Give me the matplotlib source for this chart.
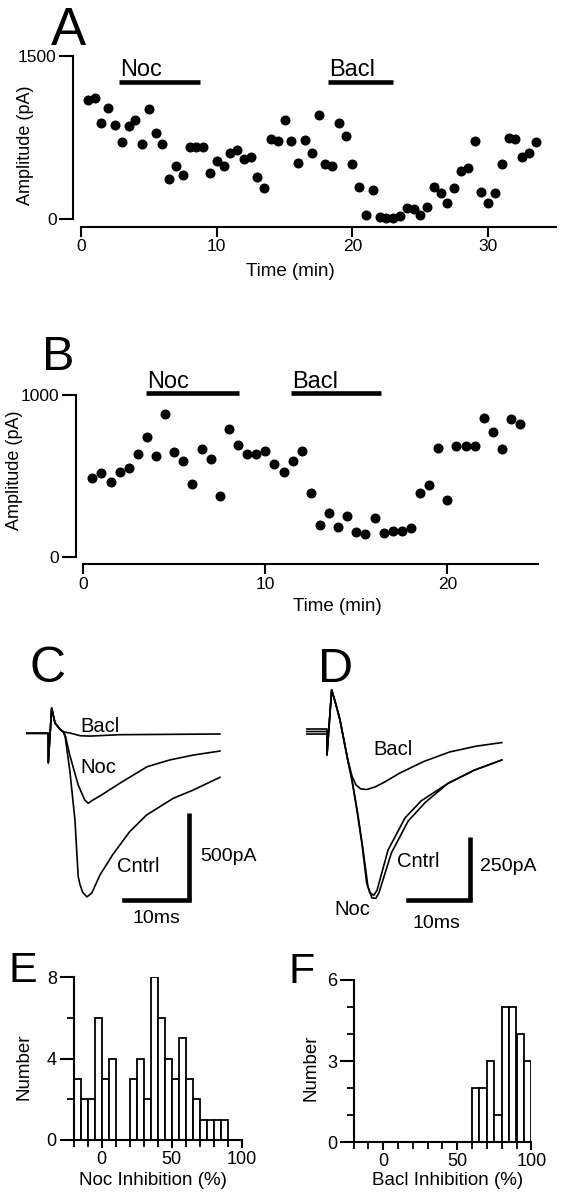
import numpy as np
import matplotlib.pyplot as plt

plt.rcParams.update({
    'font.family': ['Liberation Sans', 'DejaVu Sans'],
    'font.size': 13,
    'axes.linewidth': 1.5,
    'xtick.major.width': 1.5,
    'ytick.major.width': 1.5,
    'xtick.minor.width': 1.3,
    'ytick.minor.width': 1.3,
    'xtick.major.pad': 2,
    'ytick.major.pad': 2,
})

# ── Panel A: amplitude over time ─────────────────────────────────
a_time = [0.5, 1.0, 1.5, 2.0, 2.5, 3.0, 3.5, 4.0, 4.5, 5.0, 5.5, 6.0, 6.5, 7.0,
          7.5, 8.0, 8.5, 9.0, 9.5, 10.0, 10.5, 11.0, 11.5, 12.0, 12.5, 13.0,
          13.5, 14.0, 14.5, 15.0, 15.5, 16.0, 16.5, 17.0, 17.5, 18.0, 18.5,
          19.0, 19.5, 20.0, 20.5, 21.0, 21.5, 22.0, 22.5, 23.0, 23.5, 24.0,
          24.5, 25.0, 25.5, 26.0, 26.5, 27.0, 27.5, 28.0, 28.5, 29.0, 29.5,
          30.0, 30.5, 31.0, 31.5, 32.0, 32.5, 33.0, 33.5]
a_amp = [1094, 1115, 886, 1023, 865, 712, 856, 911, 690, 1009, 789, 690, 367,
         492, 406, 666, 666, 666, 427, 535, 492, 605, 635, 550, 574, 385, 284,
         736, 718, 911, 718, 519, 727, 611, 956, 507, 492, 880, 767, 507, 293,
         39, 269, 24, 15, 15, 30, 101, 92, 39, 116, 293, 244, 147, 284, 443,
         473, 721, 253, 152, 244, 507, 743, 734, 569, 605, 706]
a_noc = (2.8, 8.8)
a_bacl = (18.2, 23.0)

# ── Panel B ──────────────────────────────────────────────────────
b_time = [0.5, 1.0, 1.5, 2.0, 2.5, 3.0, 3.5, 4.0, 4.5, 5.0, 5.5, 6.0, 6.5, 7.0,
          7.5, 8.0, 8.5, 9.0, 9.5, 10.0, 10.5, 11.0, 11.5, 12.0, 12.5, 13.0,
          13.5, 14.0, 14.5, 15.0, 15.5, 16.0, 16.5, 17.0, 17.5, 18.0, 18.5,
          19.0, 19.5, 20.0, 20.5, 21.0, 21.5, 22.0, 22.5, 23.0, 23.5, 24.0]
b_amp = [489, 516, 465, 526, 547, 634, 739, 623, 880, 650, 592, 449, 666, 603,
         376, 790, 691, 634, 634, 654, 572, 526, 592, 654, 393, 197, 273, 187,
         253, 157, 142, 242, 146, 160, 160, 177, 393, 444, 671, 352, 687, 687,
         687, 859, 773, 666, 850, 821]
b_noc = (3.45, 8.55)
b_bacl = (11.4, 16.35)

# ── Panel C: example currents (ms, pA) ───────────────────────────
c_bacl_t = [-3.3, 0.0, 0.0, 0.52, 1.03, 1.8, 2.3, 3.5, 4.9, 6.4, 11.0, 26.4]
c_bacl_i = [0, 0, -169, 145, 59, 23, 9, 0, -14, -16, -8, -4]
c_noc_t = [-3.3, 0.0, 0.0, 0.52, 1.03, 1.8, 2.3, 2.6, 3.3, 4.6, 5.6, 6.15, 6.7,
           7.95, 11.0, 15.2, 18.7, 22.3, 26.4]
c_noc_i = [0, 0, -169, 145, 59, 23, 9, -10, -125, -297, -383, -402, -387,
           -360, -287, -192, -153, -125, -102]
c_ctl_t = [-3.3, 0.0, 0.0, 0.52, 1.03, 1.8, 2.3, 2.6, 3.3, 4.1, 4.6, 4.9, 5.3,
           5.95, 6.7, 7.95, 9.9, 12.5, 15.1, 19.2, 22.3, 26.4]
c_ctl_i = [0, 0, -169, 145, 59, 23, 9, -21, -211, -498, -824, -872, -915,
           -940, -917, -814, -698, -566, -470, -374, -326, -253]

# ── Panel D ──────────────────────────────────────────────────────
d_bacl_t = [-3.1, 0.0, 0.0, 0.72, 1.4, 2.0, 2.6, 3.2, 3.85, 4.46, 5.2, 6.15,
            7.4, 8.9, 11.2, 14.8, 18.9, 23.0, 26.9]
d_bacl_i = [10, 10, -93, 165, 105, 46, -34, -113, -177, -212, -228, -230,
            -220, -200, -165, -120, -81, -58, -44]
d_ctl_t = [-3.1, 0.0, 0.0, 0.72, 1.4, 2.0, 2.6, 3.2, 3.85, 4.6, 5.4, 6.1, 6.6,
           7.2, 7.7, 9.4, 12.0, 14.5, 18.6, 22.7, 26.9]
d_ctl_i = [0, 0, -93, 165, 105, 46, -34, -113, -192, -312, -450, -601, -640,
           -650, -630, -470, -343, -275, -206, -153, -113]
d_noc_t = [-3.1, 0.0, 0.0, 0.72, 1.4, 2.0, 2.6, 3.2, 3.85, 4.7, 5.5, 6.3, 6.9,
           7.5, 8.0, 9.9, 12.5, 15.1, 18.6, 22.7, 26.9]
d_noc_i = [-10, -10, -93, 165, 105, 46, -34, -113, -195, -320, -460, -615,
           -660, -662, -640, -482, -355, -282, -206, -153, -113]

# ── Panels E, F: histograms (5 % bins) ───────────────────────────
e_bins = [-20, -15, -10, -5, 0, 5, 10, 15, 20, 25, 30, 35, 40, 45, 50, 55, 60,
          65, 70, 75, 80, 85]
e_counts = [3, 2, 2, 6, 3, 4, 0, 0, 3, 4, 2, 8, 6, 4, 3, 5, 3, 2, 1, 1, 1, 1]
f_bins = [60, 65, 70, 75, 80, 85, 90, 95]
f_counts = [2, 2, 3, 1, 5, 5, 4, 3]

W, H = 569, 1199
fig = plt.figure(figsize=(W / 100, H / 100), dpi=100)


def px_axes(x0, y0, x1, y1):
    """axes from pixel box (left, top, right, bottom)"""
    return fig.add_axes([x0 / W, 1 - y1 / H, (x1 - x0) / W, (y1 - y0) / H])


def letter(x, y, s, size):
    fig.text(x / W, 1 - y / H, s, fontsize=size, ha='left', va='baseline')


def time_axes(ax, xmax, ymax, xticks):
    ax.set_xlim(0, xmax)
    ax.set_ylim(0, ymax)
    for s in ('top', 'right'):
        ax.spines[s].set_visible(False)
    ax.spines['left'].set_position(('outward', 5.5))
    ax.spines['bottom'].set_position(('outward', 5.2))
    ax.spines['left'].set_bounds(0, ymax)
    ax.spines['bottom'].set_bounds(0, xmax)
    ax.set_yticks([0, ymax])
    ax.set_xticks(xticks)
    ax.tick_params(axis='y', length=10, labelsize=12.5)
    ax.tick_params(axis='x', length=7, labelsize=12.5)
    ax.set_ylabel('Amplitude (pA)', fontsize=13)
    ax.set_xlabel('Time (min)', fontsize=13.5)


# A
axA = px_axes(81, 55.7, 556, 219.3)
time_axes(axA, 35, 1500, [0, 10, 20, 30])
axA.plot(a_time, a_amp, 'o', color='black', ms=6.2, clip_on=False)
for (t0, t1), lab in ((a_noc, 'Noc'), (a_bacl, 'Bacl')):
    axA.plot([t0, t1], [1262, 1262], color='black', lw=3.3,
             solid_capstyle='butt', clip_on=False)
    axA.text(t0 + 0.1, 1310, lab, fontsize=17, ha='left', va='baseline')
axA.xaxis.set_label_coords(0.44, -0.265)
axA.yaxis.set_label_coords(-0.1, 0.454)
letter(51, 45, 'A', 38)

# B
axB = px_axes(83.3, 395, 538.3, 557)
time_axes(axB, 25, 1000, [0, 10, 20])
axB.plot(b_time, b_amp, 'o', color='black', ms=6.2, clip_on=False)
for (t0, t1), lab in ((b_noc, 'Noc'), (b_bacl, 'Bacl')):
    axB.plot([t0, t1], [1010, 1010], color='black', lw=3.3,
             solid_capstyle='butt', clip_on=False)
    axB.text(t0 + 0.05, 1043, lab, fontsize=17, ha='left', va='baseline')
axB.xaxis.set_label_coords(0.559, -0.253)
axB.yaxis.set_label_coords(-0.133, 0.537)
letter(42, 370, 'B', 35)

# C
axC = px_axes(20, 680, 265, 935)
axC.set_xlim(-4.354, 33.34)
axC.set_ylim(-1159, 306.3)
axC.axis('off')
for t, i in ((c_bacl_t, c_bacl_i), (c_noc_t, c_noc_i), (c_ctl_t, c_ctl_i)):
    axC.plot(t, i, color='black', lw=1.2)
axC.plot([21.65, 21.65], [-958, -458], color='black', lw=3.3, solid_capstyle='butt')
axC.plot([11.65, 21.65], [-958, -958], color='black', lw=3.3, solid_capstyle='projecting')
axC.text(4.9, 10, 'Bacl', fontsize=14.5, va='baseline')
axC.text(4.9, -227, 'Noc', fontsize=14.5, va='baseline')
axC.text(10.6, -797, 'Cntrl', fontsize=14.5, va='baseline')
axC.text(23.3, -706, '500pA', fontsize=14, va='center')
axC.text(16.7, -1015, '10ms', fontsize=14, ha='center', va='top')
letter(29, 682, 'C', 36)

# D
axD = px_axes(295, 680, 545, 935)
axD.set_xlim(-4.92, 33.54)
axD.set_ylim(-807.5, 204.4)
axD.axis('off')
for t, i in ((d_bacl_t, d_bacl_i), (d_ctl_t, d_ctl_i), (d_noc_t, d_noc_i)):
    axD.plot(t, i, color='black', lw=1.2)
axD.plot([22.0, 22.0], [-668, -419], color='black', lw=3.3, solid_capstyle='butt')
axD.plot([12.46, 22.0], [-668, -668], color='black', lw=3.3, solid_capstyle='projecting')
axD.text(7.1, -93, 'Bacl', fontsize=14.5, va='baseline')
axD.text(10.8, -538, 'Cntrl', fontsize=14.5, va='baseline')
axD.text(1.2, -669, 'Noc', fontsize=14.5, va='top')
axD.text(23.5, -534, '250pA', fontsize=14, va='center')
axD.text(16.8, -728, '10ms', fontsize=14, ha='center', va='top')
letter(318, 682, 'D', 35)


def hist_axes(ax, bins, counts, ymax, yticks, yminor, xlabel):
    ax.bar(bins, counts, width=5, align='edge', facecolor='white',
           edgecolor='black', linewidth=1.3)
    ax.set_xlim(-20, 100)
    ax.set_ylim(0, ymax)
    for s in ('top', 'right'):
        ax.spines[s].set_visible(False)
    ax.set_xticks([0, 50, 100])
    ax.set_xticks(list(range(-20, 101, 10)), minor=True)
    ax.set_yticks(yticks)
    ax.set_yticks(yminor, minor=True)
    ax.tick_params(axis='y', which='major', length=10, labelsize=13)
    ax.tick_params(axis='y', which='minor', length=5)
    ax.tick_params(axis='x', which='major', length=6, labelsize=13)
    ax.tick_params(axis='x', which='minor', length=5)
    ax.set_ylabel('Number', fontsize=13.5)
    ax.set_xlabel(xlabel, fontsize=13.5)


axE = px_axes(73.5, 977.3, 242, 1140)
hist_axes(axE, e_bins, e_counts, 8, [0, 4, 8], [2, 6], 'Noc Inhibition (%)')
axE.xaxis.set_label_coords(0.47, -0.197)
axE.yaxis.set_label_coords(-0.245, 0.45)
letter(9, 982, 'E', 31)

axF = px_axes(353.7, 980, 531.3, 1142.3)
hist_axes(axF, f_bins, f_counts, 6, [0, 3, 6], [1, 2, 4, 5], 'Bacl Inhibition (%)')
axF.xaxis.set_label_coords(0.528, -0.183)
axF.yaxis.set_label_coords(-0.19, 0.46)
letter(289, 983, 'F', 31)

fig.savefig('out.png', dpi=100)
